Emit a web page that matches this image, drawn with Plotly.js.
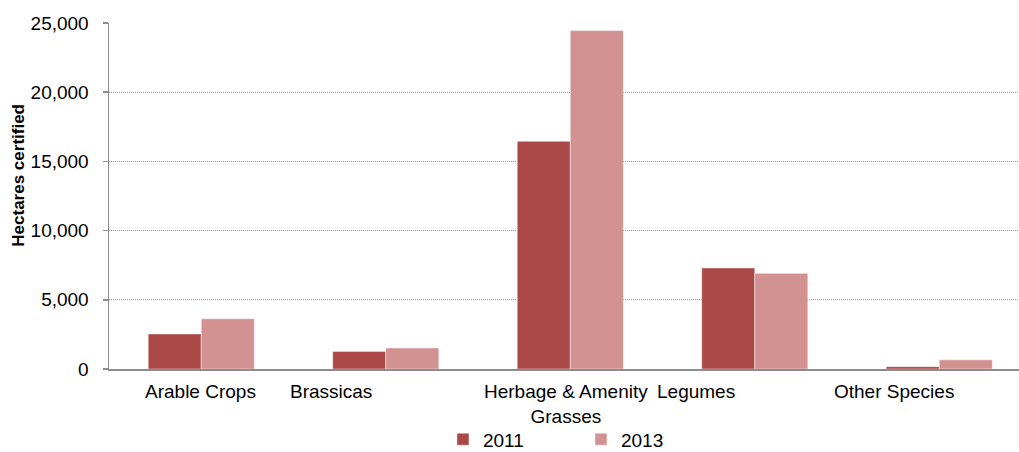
<!DOCTYPE html>
<html>
<head>
<meta charset="utf-8">
<script src="https://cdn.plot.ly/plotly-3.0.1.min.js"></script>
<style>
  html, body { margin: 0; padding: 0; background: #ffffff; }
  #chart { width: 1019px; height: 452px; }
</style>
</head>
<body>
<div id="chart"></div>
<script>
// Seed certification areas by crop group
const categories = ['Arable Crops', 'Brassicas', 'Herbage & Amenity Grasses', 'Legumes', 'Other Species'];
const categoryLabels = ['Arable Crops', 'Brassicas', 'Herbage & Amenity<br>Grasses', 'Legumes', 'Other Species'];
const hectares2011 = [2530, 1270, 16450, 7300, 170];
const hectares2013 = [3630, 1520, 24450, 6910, 660];
const seriesNames = ['2011', '2013'];
const yTickValues = [0, 5000, 10000, 15000, 20000, 25000];

// Horizontal nudges for the category captions (pixels)
const labelShift = [-1, -55, -4, -59, -45];

const FONT = 'Liberation Sans, Arial, sans-serif';
const AXIS_GREY = '#8c8c8c';

const traces = [
  {
    type: 'bar', name: seriesNames[0], x: categories, y: hectares2011,
    marker: { color: '#a94846', line: { color: 'rgba(255,255,255,0.45)', width: 1 } },
    hoverinfo: 'x+y+name'
  },
  {
    type: 'bar', name: seriesNames[1], x: categories, y: hectares2013,
    marker: { color: '#d29291', line: { color: 'rgba(255,255,255,0.45)', width: 1 } },
    hoverinfo: 'x+y+name'
  }
];

const annotations = categories.map((c, i) => ({
  x: c, xref: 'x', y: 0, yref: 'paper',
  text: categoryLabels[i],
  showarrow: false,
  xanchor: 'center', yanchor: 'top',
  xshift: labelShift[i], yshift: -10,
  align: 'center',
  font: { family: FONT, size: 19, color: '#000000' }
}));

// Axis title placed as a rotated annotation
annotations.push({
  text: '<b>Hectares certified</b>',
  xref: 'paper', yref: 'paper',
  x: -0.0989, y: 0.5587,
  xanchor: 'center', yanchor: 'middle',
  textangle: -90, showarrow: false,
  font: { family: FONT, size: 17, color: '#000000' }
});

const layout = {
  width: 1019, height: 452,
  margin: { l: 109, r: 0, t: 23, b: 83, pad: 0 },
  paper_bgcolor: '#ffffff', plot_bgcolor: '#ffffff',
  font: { family: FONT, size: 19, color: '#000000' },
  barmode: 'group',
  bargap: 0.425, bargroupgap: 0,
  showlegend: true,
  legend: {
    orientation: 'h',
    xref: 'paper', x: 0.367, xanchor: 'left',
    yref: 'container', y: 0.028, yanchor: 'middle',
    font: { family: FONT, size: 19, color: '#000000' },
    entrywidth: 93, entrywidthmode: 'pixels',
    itemwidth: 30, tracegroupgap: 0
  },
  xaxis: {
    type: 'category',
    range: [-0.5, 4.432],
    showticklabels: false,
    ticks: '',
    showgrid: false,
    showline: true, linecolor: AXIS_GREY, linewidth: 2,
    zeroline: false, fixedrange: true
  },
  yaxis: {
    range: [0, 25000],
    tickvals: yTickValues,
    tickformat: ',d',
    ticks: 'outside', ticklen: 5, tickcolor: AXIS_GREY, tickwidth: 1.5,
    ticklabelstandoff: 10,
    tickfont: { family: FONT, size: 19, color: '#000000' },
    showline: true, linecolor: AXIS_GREY, linewidth: 1.5,
    showgrid: true, gridcolor: '#9a9a9a', gridwidth: 1, griddash: '1px,1px',
    zeroline: false, fixedrange: true
  },
  annotations: annotations
};

Plotly.newPlot('chart', traces, layout, { displayModeBar: false, staticPlot: true });
</script>
</body>
</html>
